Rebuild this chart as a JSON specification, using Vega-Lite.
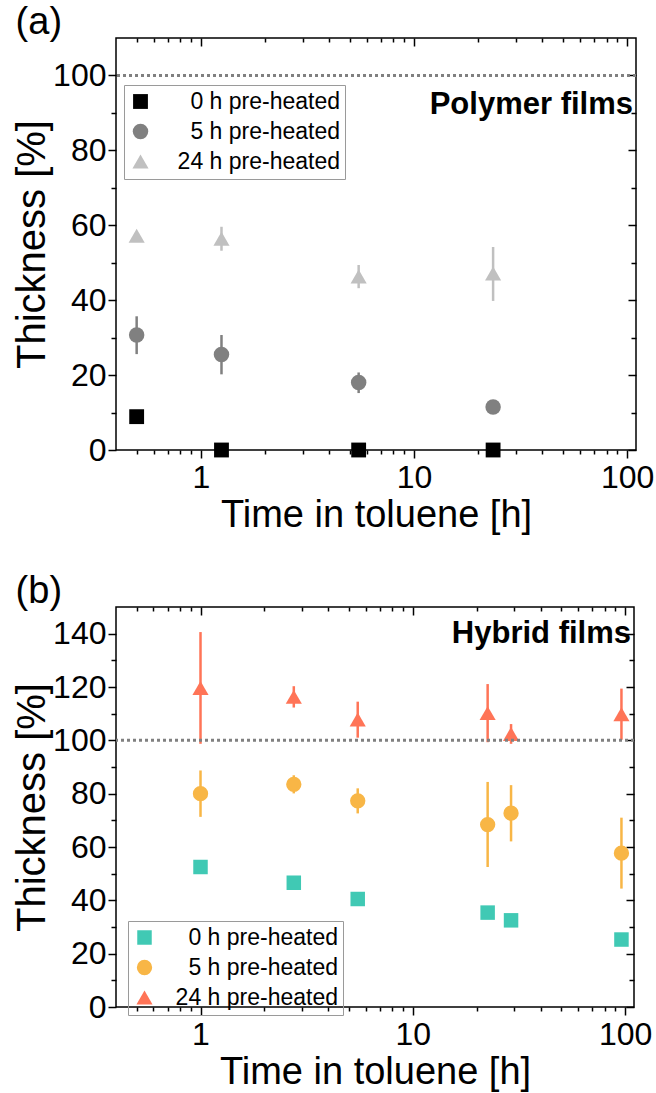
{
  "$schema": "https://vega.github.io/schema/vega-lite/v6.json",
  "background": "white",
  "padding": {"left": 11, "top": 3, "right": 0, "bottom": 0},
  "spacing": 37,
  "resolve": {"scale": {"color": "independent", "shape": "independent", "size": "independent"}, "legend": {"color": "independent", "shape": "independent"}},
  "config": {
    "font": "Liberation Sans",
    "view": {"stroke": "#000", "strokeWidth": 1.5},
    "axis": {"labelFont": "Liberation Sans", "titleFont": "Liberation Sans", "labelColor": "#000", "titleColor": "#000", "tickColor": "#000", "grid": false, "domain": false, "labelFontSize": 32, "titleFontSize": 38, "titleFontWeight": "normal", "tickWidth": 1.5, "labelPadding": 2},
    "axisX": {"titlePadding": 3, "labelPadding": 4},
    "axisY": {"titleFontSize": 40},
    "title": {"font": "Liberation Sans", "fontSize": 38, "fontWeight": "normal", "anchor": "start", "offset": -5, "color": "#000"},
    "legend": {"labelFont": "Liberation Sans", "labelFontSize": 23, "labelColor": "#000", "labelLimit": 0, "strokeColor": "#9a9a9a", "padding": 5, "rowPadding": 6, "symbolSize": 230, "symbolStrokeWidth": 0}
  },
  "vconcat": [
    {
      "width": 520,
      "height": 412,
      "title": {"text": "(a)", "dx": 3},
      "data": {"values": [
        {"t": 0.5, "v": 8.9, "lo": 8.4, "hi": 9.4, "s": "0 h pre-heated"},
        {"t": 1.25, "v": 0, "lo": 0, "hi": 0, "s": "0 h pre-heated"},
        {"t": 5.5, "v": 0, "lo": 0, "hi": 0, "s": "0 h pre-heated"},
        {"t": 23.5, "v": 0, "lo": 0, "hi": 0, "s": "0 h pre-heated"},
        {"t": 0.5, "v": 30.7, "lo": 25.6, "hi": 35.7, "s": "5 h pre-heated"},
        {"t": 1.25, "v": 25.5, "lo": 20.2, "hi": 30.7, "s": "5 h pre-heated"},
        {"t": 5.5, "v": 18.0, "lo": 15.2, "hi": 20.7, "s": "5 h pre-heated"},
        {"t": 23.5, "v": 11.5, "lo": 10.8, "hi": 12.2, "s": "5 h pre-heated"},
        {"t": 0.5, "v": 57.2, "lo": 56.5, "hi": 58.0, "s": "24 h pre-heated"},
        {"t": 1.25, "v": 56.4, "lo": 53.2, "hi": 59.6, "s": "24 h pre-heated"},
        {"t": 5.5, "v": 46.3, "lo": 43.2, "hi": 49.4, "s": "24 h pre-heated"},
        {"t": 23.5, "v": 47.1, "lo": 39.8, "hi": 54.2, "s": "24 h pre-heated"}
      ]},
      "resolve": {"axis": {"x": "independent", "y": "independent"}},
      "layer": [
        {
          "data": {"values": [{"ref": 100}]},
          "mark": {"type": "rule", "color": "#808080", "strokeWidth": 3, "strokeDash": [3, 3]},
          "encoding": {
            "y": {"field": "ref", "type": "quantitative", "scale": {"domain": [0, 110], "nice": false}, "axis": {"orient": "right", "values": [0, 20, 40, 60, 80, 100], "labels": false, "title": null, "tickSize": -8}}
          }
        },
        {
          "mark": {"type": "rule", "strokeWidth": 2.5},
          "encoding": {
            "x": {"field": "t", "type": "quantitative", "scale": {"type": "log", "domain": [0.4, 110], "nice": false}, "axis": {"orient": "bottom", "values": [1, 10, 100], "title": "Time in toluene [h]", "tickSize": 8, "labelFlush": false}},
            "y": {"field": "lo", "type": "quantitative", "scale": {"domain": [0, 110], "nice": false}, "axis": {"orient": "left", "values": [0, 20, 40, 60, 80, 100], "title": "Thickness [%]", "tickSize": 8, "titlePadding": 0}},
            "y2": {"field": "hi"},
            "color": {"field": "s", "type": "nominal", "scale": {"domain": ["0 h pre-heated", "5 h pre-heated", "24 h pre-heated"], "range": ["#000000", "#808080", "#c0c0c0"]}, "legend": {"title": null, "orient": "none", "legendX": 8, "legendY": 47, "labelAlign": "right", "labelOffset": 188}}
          }
        },
        {
          "mark": {"type": "point", "filled": true, "opacity": 1},
          "encoding": {
            "x": {"field": "t", "type": "quantitative", "scale": {"type": "log", "domain": [0.4, 110], "nice": false}, "axis": {"orient": "bottom", "values": [0.5, 0.6, 0.7, 0.8, 0.9, 2, 3, 4, 5, 6, 7, 8, 9, 20, 30, 40, 50, 60, 70, 80, 90], "labels": false, "title": null, "tickSize": 4}},
            "y": {"field": "v", "type": "quantitative", "scale": {"domain": [0, 110], "nice": false}, "axis": {"orient": "left", "values": [10, 30, 50, 70, 90], "labels": false, "title": null, "tickSize": 5}},
            "size": {"field": "s", "type": "nominal", "scale": {"domain": ["0 h pre-heated", "5 h pre-heated", "24 h pre-heated"], "range": [220, 260, 400]}, "legend": null},
            "shape": {"field": "s", "type": "nominal", "scale": {"domain": ["0 h pre-heated", "5 h pre-heated", "24 h pre-heated"], "range": ["square", "circle", "triangle-up"]}, "legend": {"title": null, "orient": "none", "legendX": 8, "legendY": 47, "labelAlign": "right", "labelOffset": 188}},
            "color": {"field": "s", "type": "nominal", "scale": {"domain": ["0 h pre-heated", "5 h pre-heated", "24 h pre-heated"], "range": ["#000000", "#808080", "#c0c0c0"]}, "legend": {"title": null, "orient": "none", "legendX": 8, "legendY": 47, "labelAlign": "right", "labelOffset": 188}}
          }
        },
        {
          "data": {"values": [{"t": 110, "v": 92, "label": "Polymer films"}]},
          "mark": {"type": "text", "align": "right", "baseline": "middle", "dx": -3, "fontSize": 31, "fontWeight": "bold", "font": "Liberation Sans", "color": "#000"},
          "encoding": {
            "x": {"field": "t", "type": "quantitative", "scale": {"type": "log", "domain": [0.4, 110], "nice": false}, "axis": {"orient": "top", "values": [1, 10, 100], "labels": false, "title": null, "tickSize": -8}},
            "y": {"field": "v", "type": "quantitative", "scale": {"domain": [0, 110], "nice": false}, "axis": {"orient": "right", "values": [10, 30, 50, 70, 90], "labels": false, "title": null, "tickSize": -5}},
            "text": {"field": "label"}
          }
        },
        {
          "mark": {"type": "point", "opacity": 0},
          "encoding": {
            "x": {"field": "t", "type": "quantitative", "scale": {"type": "log", "domain": [0.4, 110], "nice": false}, "axis": {"orient": "top", "values": [0.5, 0.6, 0.7, 0.8, 0.9, 2, 3, 4, 5, 6, 7, 8, 9, 20, 30, 40, 50, 60, 70, 80, 90], "labels": false, "title": null, "tickSize": -4}},
            "y": {"field": "v", "type": "quantitative", "scale": {"domain": [0, 110], "nice": false}, "axis": null}
          }
        }
      ]
    },
    {
      "width": 518,
      "height": 400,
      "title": {"text": "(b)", "dx": 3},
      "data": {"values": [
        {"t": 1, "v": 52.5, "lo": 52.0, "hi": 53.0, "s": "0 h pre-heated"},
        {"t": 2.75, "v": 46.6, "lo": 46.1, "hi": 47.1, "s": "0 h pre-heated"},
        {"t": 5.5, "v": 40.5, "lo": 40.0, "hi": 41.0, "s": "0 h pre-heated"},
        {"t": 22.5, "v": 35.4, "lo": 34.9, "hi": 35.9, "s": "0 h pre-heated"},
        {"t": 29, "v": 32.5, "lo": 32.0, "hi": 33.0, "s": "0 h pre-heated"},
        {"t": 96, "v": 25.3, "lo": 24.8, "hi": 25.8, "s": "0 h pre-heated"},
        {"t": 1, "v": 80.0, "lo": 71.3, "hi": 88.7, "s": "5 h pre-heated"},
        {"t": 2.75, "v": 83.5, "lo": 80.1, "hi": 86.9, "s": "5 h pre-heated"},
        {"t": 5.5, "v": 77.3, "lo": 72.6, "hi": 82.0, "s": "5 h pre-heated"},
        {"t": 22.5, "v": 68.4, "lo": 52.5, "hi": 84.4, "s": "5 h pre-heated"},
        {"t": 29, "v": 72.7, "lo": 62.1, "hi": 83.2, "s": "5 h pre-heated"},
        {"t": 96, "v": 57.7, "lo": 44.4, "hi": 71.0, "s": "5 h pre-heated"},
        {"t": 1, "v": 119.6, "lo": 98.7, "hi": 140.6, "s": "24 h pre-heated"},
        {"t": 2.75, "v": 116.3, "lo": 112.3, "hi": 120.3, "s": "24 h pre-heated"},
        {"t": 5.5, "v": 107.8, "lo": 101.0, "hi": 114.5, "s": "24 h pre-heated"},
        {"t": 22.5, "v": 110.2, "lo": 99.3, "hi": 121.1, "s": "24 h pre-heated"},
        {"t": 29, "v": 102.4, "lo": 98.7, "hi": 106.1, "s": "24 h pre-heated"},
        {"t": 96, "v": 109.8, "lo": 100.2, "hi": 119.4, "s": "24 h pre-heated"}
      ]},
      "resolve": {"axis": {"x": "independent", "y": "independent"}},
      "layer": [
        {
          "mark": {"type": "rule", "strokeWidth": 2.5},
          "encoding": {
            "x": {"field": "t", "type": "quantitative", "scale": {"type": "log", "domain": [0.4, 110], "nice": false}, "axis": {"orient": "bottom", "values": [1, 10, 100], "title": "Time in toluene [h]", "tickSize": 8, "labelFlush": false}},
            "y": {"field": "lo", "type": "quantitative", "scale": {"domain": [0, 150], "nice": false}, "axis": {"orient": "left", "values": [0, 20, 40, 60, 80, 100, 120, 140], "title": "Thickness [%]", "tickSize": 8, "titlePadding": 0}},
            "y2": {"field": "hi"},
            "color": {"field": "s", "type": "nominal", "scale": {"domain": ["0 h pre-heated", "5 h pre-heated", "24 h pre-heated"], "range": ["#40c9b4", "#f8b646", "#ff7457"]}, "legend": {"title": null, "orient": "none", "legendX": 12, "legendY": 314, "labelAlign": "right", "labelOffset": 182}}
          }
        },
        {
          "mark": {"type": "point", "filled": true, "opacity": 1},
          "encoding": {
            "x": {"field": "t", "type": "quantitative", "scale": {"type": "log", "domain": [0.4, 110], "nice": false}, "axis": {"orient": "bottom", "values": [0.5, 0.6, 0.7, 0.8, 0.9, 2, 3, 4, 5, 6, 7, 8, 9, 20, 30, 40, 50, 60, 70, 80, 90], "labels": false, "title": null, "tickSize": 4}},
            "y": {"field": "v", "type": "quantitative", "scale": {"domain": [0, 150], "nice": false}, "axis": {"orient": "left", "values": [10, 30, 50, 70, 90, 110, 130], "labels": false, "title": null, "tickSize": 5}},
            "size": {"field": "s", "type": "nominal", "scale": {"domain": ["0 h pre-heated", "5 h pre-heated", "24 h pre-heated"], "range": [210, 260, 380]}, "legend": null},
            "shape": {"field": "s", "type": "nominal", "scale": {"domain": ["0 h pre-heated", "5 h pre-heated", "24 h pre-heated"], "range": ["square", "circle", "triangle-up"]}, "legend": {"title": null, "orient": "none", "legendX": 12, "legendY": 314, "labelAlign": "right", "labelOffset": 182}},
            "color": {"field": "s", "type": "nominal", "scale": {"domain": ["0 h pre-heated", "5 h pre-heated", "24 h pre-heated"], "range": ["#40c9b4", "#f8b646", "#ff7457"]}, "legend": {"title": null, "orient": "none", "legendX": 12, "legendY": 314, "labelAlign": "right", "labelOffset": 182}}
          }
        },
        {
          "data": {"values": [{"ref": 100}]},
          "mark": {"type": "rule", "color": "#808080", "strokeWidth": 3, "strokeDash": [3, 3]},
          "encoding": {
            "y": {"field": "ref", "type": "quantitative", "scale": {"domain": [0, 150], "nice": false}, "axis": {"orient": "right", "values": [0, 20, 40, 60, 80, 100, 120, 140], "labels": false, "title": null, "tickSize": -8}}
          }
        },
        {
          "data": {"values": [{"t": 110, "v": 140, "label": "Hybrid films"}]},
          "mark": {"type": "text", "align": "right", "baseline": "middle", "dx": -3, "fontSize": 31, "fontWeight": "bold", "font": "Liberation Sans", "color": "#000"},
          "encoding": {
            "x": {"field": "t", "type": "quantitative", "scale": {"type": "log", "domain": [0.4, 110], "nice": false}, "axis": {"orient": "top", "values": [1, 10, 100], "labels": false, "title": null, "tickSize": -8}},
            "y": {"field": "v", "type": "quantitative", "scale": {"domain": [0, 150], "nice": false}, "axis": {"orient": "right", "values": [10, 30, 50, 70, 90, 110, 130], "labels": false, "title": null, "tickSize": -5}},
            "text": {"field": "label"}
          }
        },
        {
          "mark": {"type": "point", "opacity": 0},
          "encoding": {
            "x": {"field": "t", "type": "quantitative", "scale": {"type": "log", "domain": [0.4, 110], "nice": false}, "axis": {"orient": "top", "values": [0.5, 0.6, 0.7, 0.8, 0.9, 2, 3, 4, 5, 6, 7, 8, 9, 20, 30, 40, 50, 60, 70, 80, 90], "labels": false, "title": null, "tickSize": -4}},
            "y": {"field": "v", "type": "quantitative", "scale": {"domain": [0, 150], "nice": false}, "axis": null}
          }
        }
      ]
    }
  ]
}
